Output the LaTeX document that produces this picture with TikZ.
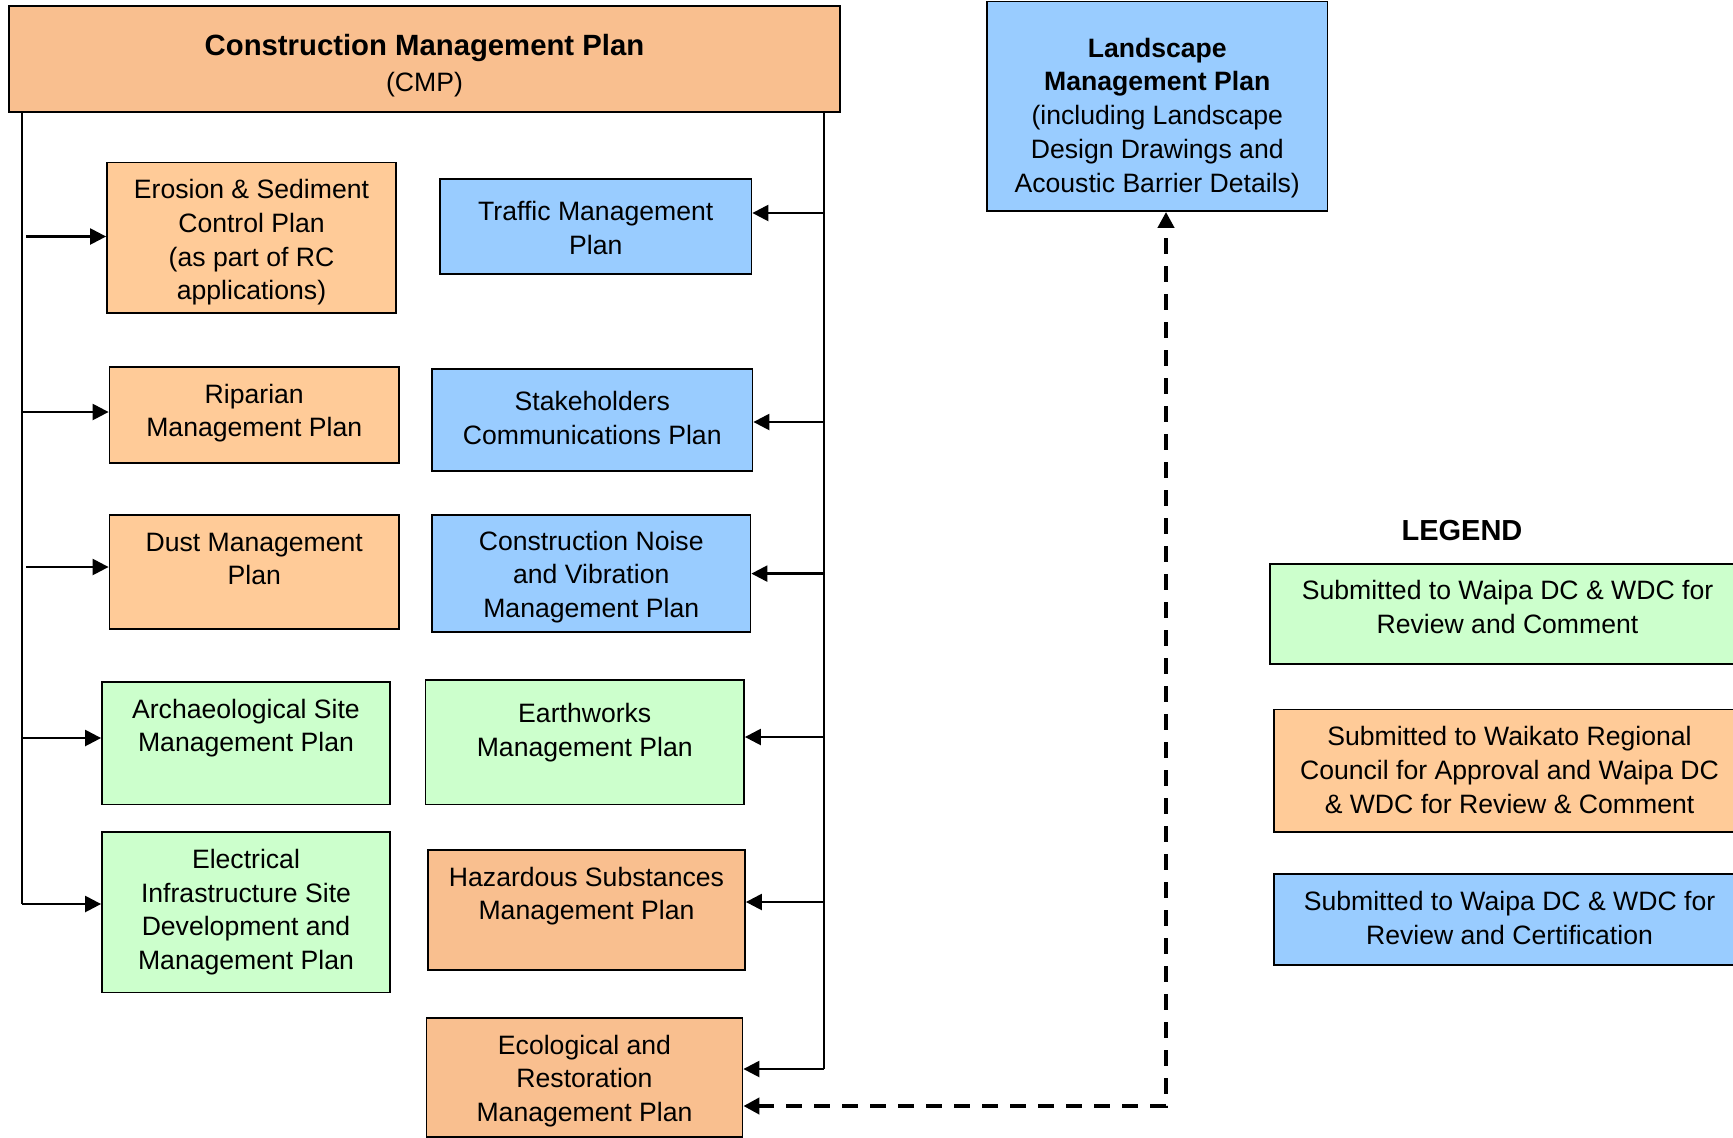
\documentclass[tikz,border=0pt]{standalone}
\usepackage{fontspec}
\setmainfont{Liberation Sans}
\usetikzlibrary{arrows.meta}
\definecolor{orA}{HTML}{F9BF8F}
\definecolor{orB}{HTML}{FFCB98}
\definecolor{bl}{HTML}{99CCFF}
\definecolor{gr}{HTML}{CCFFCC}
\newcommand\mkbox[8]{%
  \node[boxstyle, fill=#2, minimum width={(#5)-(#3)}, minimum height={(#6)-(#4)}] (#1) at ({((#3)+(#5))/2},{((#4)+(#6))/2}) {};
  \node[txt] (#1-t) at ({((#3)+(#5))/2},#7) {\strut #8};}
\begin{document}
\begin{tikzpicture}[x=1pt,y=-1pt,
  boxstyle/.style={draw=black, line width=1.8pt, inner sep=0pt},
  txt/.style={anchor=north, align=center, inner sep=0pt, font=\fontsize{26.6}{33.7}\selectfont},
  spine/.style={line width=1.8pt},
  arr/.style={line width=2.4pt, -{Triangle[length=16pt,width=16pt]}},
  dasharr/.style={line width=4pt, dash pattern=on 16pt off 12pt, {Triangle[length=16pt,width=16pt]}-{Triangle[length=16pt,width=16pt]}}]
\useasboundingbox (0,0) rectangle (1733,1138);

% main box
\node[boxstyle, fill=orA, minimum width=831, minimum height=106] (cmp) at (424.5,59) {};
\node[anchor=base, inner sep=0pt, font=\fontsize{29.3}{35}\selectfont\bfseries] (cmpt1) at (424.5,55.7) {Construction Management Plan};
\node[anchor=base, inner sep=0pt, font=\fontsize{26.6}{33.7}\selectfont] (cmpt2) at (424.5,91.4) {(CMP)};

\mkbox{eros}{orB}{107}{162.5}{396}{313}{175.0}{Erosion \& Sediment\\Control Plan\\(as part of RC\\applications)}
\mkbox{traf}{bl}{440}{179}{751.5}{274}{197.1}{Traffic Management\\Plan}
\mkbox{ripa}{orB}{109.5}{367}{399}{463}{379.5}{Riparian\\Management Plan}
\mkbox{stak}{bl}{432}{369}{752.5}{471}{387.2}{Stakeholders\\Communications Plan}
\mkbox{dust}{orB}{109.5}{515}{399}{629}{527.5}{Dust Management\\Plan}
\mkbox{nois}{bl}{432}{515}{750.5}{632}{526.4}{Construction Noise\\and Vibration\\Management Plan}
\mkbox{arch}{gr}{102}{682}{390}{804.5}{694.4}{Archaeological Site\\Management Plan}
\mkbox{eart}{gr}{425.5}{680}{744}{804.5}{698.9}{Earthworks\\Management Plan}
\mkbox{elec}{gr}{102}{832}{390}{992.5}{844.7}{Electrical\\Infrastructure Site\\Development and\\Management Plan}
\mkbox{haza}{orA}{428}{850}{745}{970}{862.4}{Hazardous Substances\\Management Plan}
\mkbox{ecol}{orA}{426.5}{1018}{742.5}{1137}{1030.4}{Ecological and\\Restoration\\Management Plan}
\mkbox{land}{bl}{987}{1.5}{1327.5}{211}{33.5}{{\bfseries Landscape}\\{\bfseries Management Plan}\\(including Landscape\\Design Drawings and\\Acoustic Barrier Details)}

% legend
\node[anchor=base, inner sep=0pt, font=\fontsize{29}{35}\selectfont\bfseries] (legt) at (1462,540.9) {LEGEND};
\mkbox{leg1}{gr}{1270}{564}{1745}{664}{576.2}{Submitted to Waipa DC \& WDC for\\Review and Comment}
\mkbox{leg2}{orB}{1274}{709.5}{1745}{832}{722.1}{Submitted to Waikato Regional\\Council for Approval and Waipa DC\\\& WDC for Review \& Comment}
\mkbox{leg3}{bl}{1274}{874}{1745}{965}{886.7}{Submitted to Waipa DC \& WDC for\\Review and Certification}

% left spine
\coordinate (ltop) at (22,112);
\coordinate (lbot) at (22,904);
\draw[spine] (ltop) -- (lbot);
\coordinate (lE) at (26,236.5);
\coordinate (lR) at (22,412);
\coordinate (lD) at (26,567);
\coordinate (lA) at (22,738);
\draw[arr] (lE) -- (eros.west |- lE);
\draw[arr] (lR) -- (ripa.west |- lR);
\draw[arr] (lD) -- (dust.west |- lD);
\draw[arr] (lA) -- (arch.west |- lA);
\draw[arr] (lbot) -- (elec.west |- lbot);

% right spine
\coordinate (rtop) at (824,112);
\coordinate (rbot) at (824,1069);
\draw[spine] (rtop) -- (rbot);
\coordinate (rT) at (824,213);
\coordinate (rS) at (824,422);
\coordinate (rN) at (824,573.6);
\coordinate (rE) at (824,737);
\coordinate (rH) at (824,902);
\draw[arr] (rT) -- (traf.east |- rT);
\draw[arr] (rS) -- (stak.east |- rS);
\draw[arr] (rN) -- (nois.east |- rN);
\draw[arr] (rE) -- (eart.east |- rE);
\draw[arr] (rH) -- (haza.east |- rH);
\draw[arr] (rbot) -- (ecol.east |- rbot);

% dashed link
\coordinate (dc) at (1166,1106);
\draw[dasharr] (ecol.east |- dc) -- (dc) -- (land.south -| dc);
\end{tikzpicture}
\end{document}
